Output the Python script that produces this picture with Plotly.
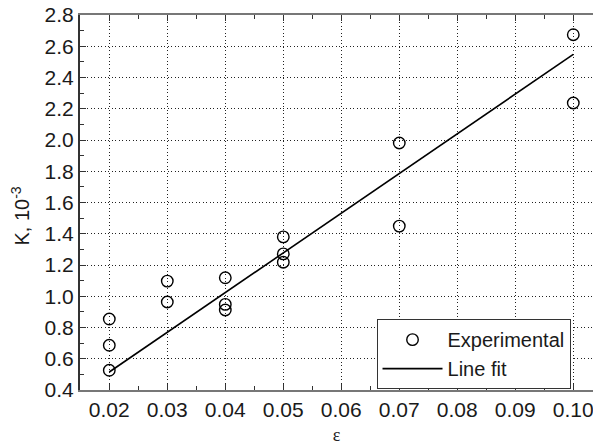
import plotly.graph_objects as go

eps_exp = [0.02, 0.02, 0.02, 0.03, 0.03, 0.04, 0.04, 0.04,
           0.05, 0.05, 0.05, 0.07, 0.07, 0.10, 0.10]
k_exp = [0.854, 0.686, 0.526, 1.097, 0.963, 1.118, 0.948, 0.912,
         1.380, 1.271, 1.218, 1.981, 1.449, 2.674, 2.237]

# Line fit endpoints
eps_fit = [0.02, 0.10]
k_fit = [0.515, 2.548]

x_ticks = [0.02, 0.03, 0.04, 0.05, 0.06, 0.07, 0.08, 0.09, 0.10]
x_ticktext = ["0.02", "0.03", "0.04", "0.05", "0.06", "0.07", "0.08", "0.09", "0.10"]
y_ticks = [0.4, 0.6, 0.8, 1.0, 1.2, 1.4, 1.6, 1.8, 2.0, 2.2, 2.4, 2.6, 2.8]
y_ticktext = ["0.4", "0.6", "0.8", "1.0", "1.2", "1.4", "1.6", "1.8", "2.0", "2.2", "2.4", "2.6", "2.8"]

FONT = "Liberation Sans, Arial, sans-serif"

fig = go.Figure()
fig.add_trace(go.Scatter(
    x=eps_exp, y=k_exp, mode="markers", name="Experimental",
    marker=dict(symbol="circle-open", size=11.5, color="black", line=dict(width=1.4, color="black")),
))
fig.add_trace(go.Scatter(
    x=eps_fit, y=k_fit, mode="lines", name="Line fit",
    line=dict(color="black", width=1.6),
))

axis_common = dict(
    showline=True, linewidth=2,
    ticks="inside", ticklen=6, tickwidth=1, tickcolor="#333333",
    showgrid=True, gridcolor="#222222", griddash="1px,2.5px", gridwidth=1,
    zeroline=False,
    tickfont=dict(family=FONT, size=21, color="#1a1a1a"),
    ticklabeloverflow="allow",
)

fig.update_xaxes(
    **axis_common,
    linecolor="#777777",
    range=[0.01495, 0.1034],
    tickmode="array", tickvals=x_ticks, ticktext=x_ticktext,
    mirror="ticks",
    minor=dict(dtick=0.005, tick0=0.0, ticks="inside", ticklen=4, tickcolor="#333333", showgrid=False),
    title=dict(text="ε", font=dict(family="Liberation Serif, DejaVu Serif, serif", size=18, color="#222222"), standoff=12),
)
fig.update_yaxes(
    **axis_common,
    linecolor="#333333",
    range=[0.4, 2.8],
    tickmode="array", tickvals=y_ticks, ticktext=y_ticktext,
    minor=dict(dtick=0.1, tick0=0.0, ticks="inside", ticklen=4, tickcolor="#333333", showgrid=False),
)

fig.add_annotation(
    text="K, 10<sup>-3</sup>", textangle=-90,
    xref="paper", yref="paper", x=0, y=0.5, xanchor="center", yanchor="middle",
    xshift=-60, yshift=-14, showarrow=False,
    font=dict(family=FONT, size=20, color="#1a1a1a"),
)

fig.update_layout(
    width=593, height=445,
    margin=dict(l=80, r=0, t=15, b=55),
    plot_bgcolor="white", paper_bgcolor="white",
    showlegend=True,
    legend=dict(
        x=0.578, y=0.189, xanchor="left", yanchor="top",
        bgcolor="white", bordercolor="#333333", borderwidth=1,
        font=dict(family=FONT, size=20, color="#1a1a1a"),
        itemwidth=60, tracegroupgap=0,
        entrywidth=205, entrywidthmode="pixels",
    ),
)

fig.write_html("out.html", config={"displayModeBar": False},
               post_script="document.body.style.margin='0';document.body.style.overflow='hidden';")
